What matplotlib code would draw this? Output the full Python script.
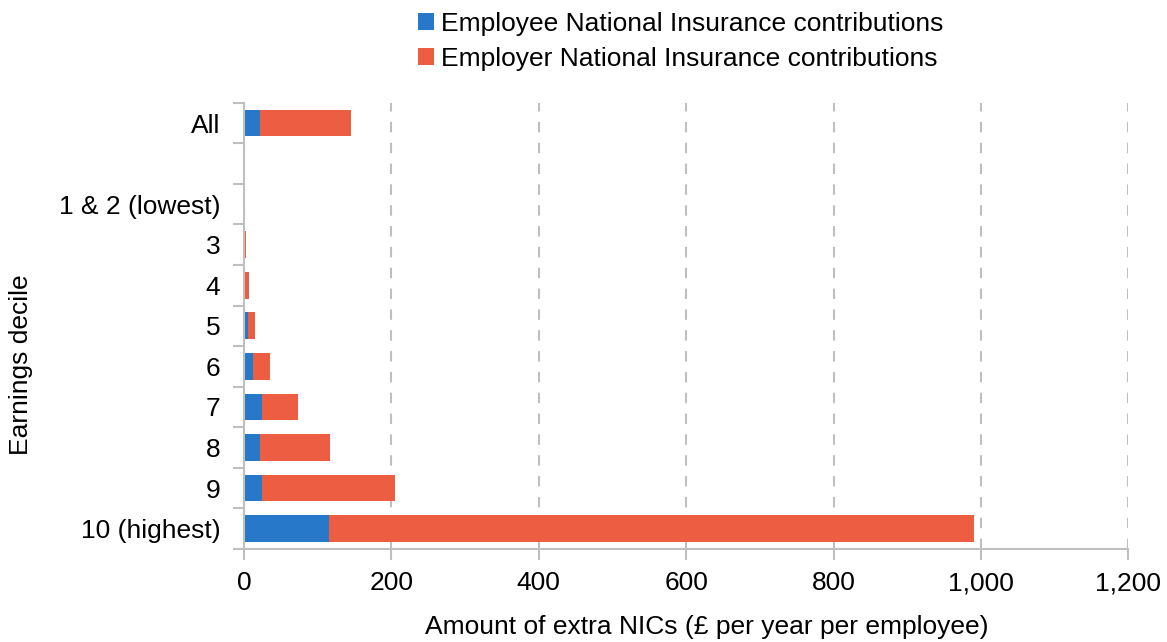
import matplotlib.pyplot as plt
import numpy as np

plt.rcParams['font.family'] = ['Liberation Sans', 'DejaVu Sans']

# Extra NICs per employee by earnings decile (£ per year)
categories = ['All', '', '1 & 2 (lowest)', '3', '4', '5', '6', '7', '8', '9', '10 (highest)']
employee = [22, 0, 0, 0.3, 1.5, 5, 12.5, 25, 22, 24, 115]
employer = [123, 0, 0, 2, 5, 10, 23, 48, 95, 181, 875]

blue = '#2778c8'
red = '#ec5d42'
grey = '#bfbfbf'
fs = 19

fig = plt.figure(figsize=(11.67, 6.42), dpi=100)
ax = fig.add_axes([0.209, 0.145, 0.758, 0.695])

y = np.arange(len(categories))
ax.barh(y, employee, height=0.66, color=blue, label='Employee National Insurance contributions')
ax.barh(y, employer, left=employee, height=0.66, color=red, label='Employer National Insurance contributions')

ax.set_ylim(len(categories) - 0.5, -0.5)
ax.set_xlim(0, 1200)
ax.set_xticks(range(0, 1201, 200))
ax.set_xticklabels([f'{v:,}' for v in range(0, 1201, 200)])
ax.set_yticks(y)
ax.set_yticklabels(categories)
ax.set_yticks(np.arange(-0.5, len(categories), 1), minor=True)

ax.grid(axis='x', linestyle=(0, (5, 5)), color=grey, linewidth=1.5)
ax.set_axisbelow(True)

for side in ['top', 'right']:
    ax.spines[side].set_visible(False)
for side in ['left', 'bottom']:
    ax.spines[side].set_color(grey)
    ax.spines[side].set_linewidth(1.5)

ax.tick_params(axis='y', which='major', length=0, pad=17, labelsize=fs)
ax.tick_params(axis='y', which='minor', length=8, width=1.5, color=grey)
ax.tick_params(axis='x', length=8, width=1.5, color=grey, labelsize=fs, pad=8)

ax.set_xlabel('Amount of extra NICs (£ per year per employee)', fontsize=fs)
ax.set_ylabel('Earnings decile', fontsize=fs)
ax.xaxis.set_label_coords(0.523, -0.148)
ax.yaxis.set_label_coords(-0.238, 0.413)

fig.legend(loc='upper left', bbox_to_anchor=(0.345, 1.006), frameon=False, fontsize=fs,
           handlelength=0.6, handleheight=0.6, handletextpad=0.25, labelspacing=0.42,
           borderaxespad=0.2)

fig.savefig('out.png', dpi=100)
